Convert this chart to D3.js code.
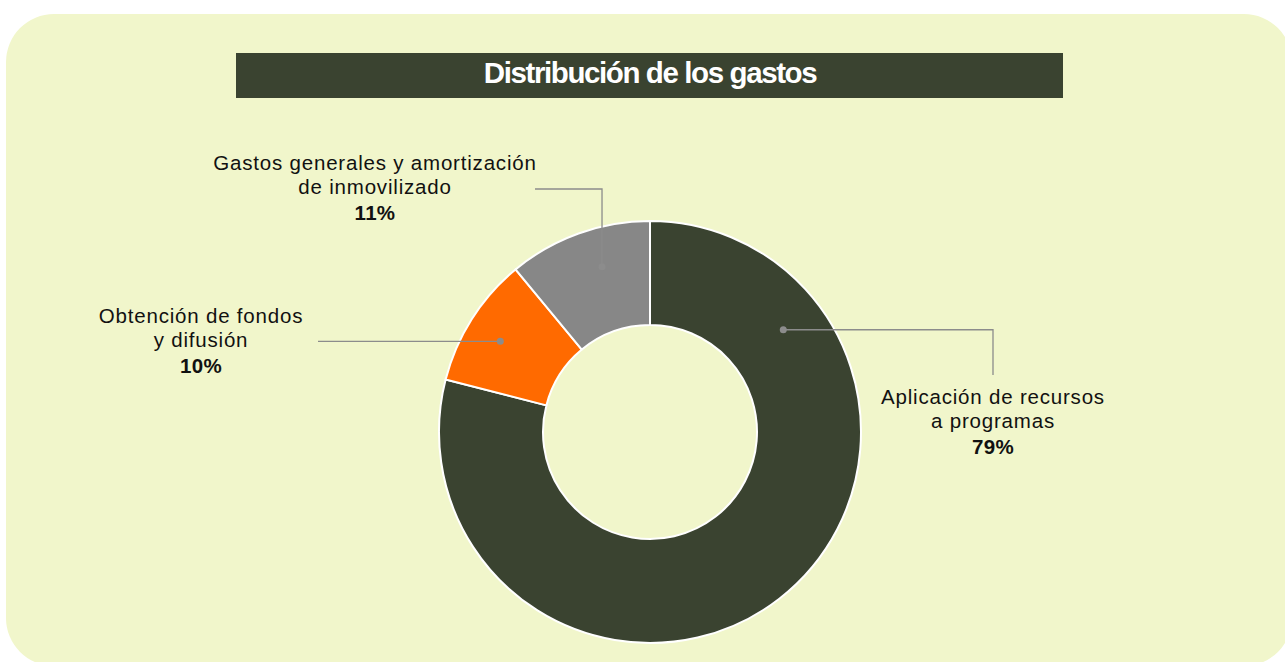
<!DOCTYPE html>
<html>

<head>
  <meta charset="UTF-8" />
  <title>Distribución de los gastos</title>
  <style>
    html, body {
      margin: 0;
      padding: 0;
      background: #ffffff;
      overflow: hidden;
    }

    :root {
      font-family: "Liberation Sans", Arial, Helvetica, sans-serif;
    }
  </style>
  <script src="https://d3js.org/d3.v7.min.js"></script>
</head>

<body>
  <script>
    /* Chart data */
    let categories = ["Aplicación de recursos a programas", "Obtención de fondos y difusión", "Gastos generales y amortización de inmovilizado"],
      values = [79, 10, 11],
      labelLines = [
        ["Aplicación de recursos", "a programas"],
        ["Obtención de fondos", "y difusión"],
        ["Gastos generales y amortización", "de inmovilizado"]
      ],
      percentLabels = ["79%", "10%", "11%"],
      colors = ["#3a4330", "#ff6a00", "#878787"];

    let width = 1285,
      height = 662,
      cx = 650,
      cy = 432,
      outerR = 211,
      innerR = 107;

    /* Label layout: anchor angle on the ring (deg), label centre, first baseline, leader bend */
    let labelLayout = [
      { angle: 52.5, r: 168, lx: 993, ly: 404, path: "right-down", endX: 993, endY: 375 },
      { angle: -58.8, r: 175, lx: 201, ly: 323, path: "straight", endX: 318 },
      { angle: -16.2, r: 172, lx: 375, ly: 170, path: "up-left", endX: 535, endY: 189 }
    ];

    let svg = d3.select("body")
      .append("svg")
      .attr("width", width)
      .attr("height", height);

    /* Panel background */
    svg.append("rect")
      .attr("x", 6)
      .attr("y", 14)
      .attr("width", 1286)
      .attr("height", 652)
      .attr("rx", 48)
      .attr("fill", "#f1f6cb");

    /* Title bar */
    svg.append("rect")
      .attr("x", 236)
      .attr("y", 53)
      .attr("width", 827)
      .attr("height", 45)
      .attr("fill", "#3a4330");

    svg.append("text")
      .attr("x", 650)
      .attr("y", 83)
      .attr("text-anchor", "middle")
      .attr("fill", "#ffffff")
      .style("font-size", "29.5px")
      .style("font-weight", "bold")
      .style("letter-spacing", "-1.4px")
      .text("Distribución de los gastos");

    /* Donut */
    let pie = d3.pie().sort(null).value(d => d)
      .startAngle(0).endAngle(2 * Math.PI);
    let arcs = pie(values);
    let arc = d3.arc().innerRadius(innerR).outerRadius(outerR);

    let g = svg.append("g")
      .attr("transform", `translate(${cx}, ${cy})`);

    g.selectAll(".slice")
      .data(arcs)
      .enter()
      .append("path")
      .attr("class", "slice")
      .attr("d", arc)
      .attr("fill", (d, i) => colors[i])
      .attr("stroke", "#ffffff")
      .attr("stroke-width", 2);

    /* Leader lines and labels */
    let lab = svg.append("g").attr("class", "labels");

    labelLayout.forEach((L, i) => {
      let a = L.angle * Math.PI / 180;
      let px = cx + L.r * Math.sin(a),
        py = cy - L.r * Math.cos(a);
      let pts;
      if (L.path === "right-down") pts = [[px, py], [L.endX, py], [L.endX, L.endY]];
      else if (L.path === "up-left") pts = [[px, py], [px, L.endY], [L.endX, L.endY]];
      else pts = [[px, py], [L.endX, py]];

      lab.append("path")
        .attr("d", d3.line()(pts))
        .attr("fill", "none")
        .attr("stroke", "#8c8c8c")
        .attr("stroke-width", 1.3);

      lab.append("circle")
        .attr("cx", px)
        .attr("cy", py)
        .attr("r", 3.5)
        .attr("fill", "#8c8c8c");

      let t = lab.append("text")
        .attr("text-anchor", "middle")
        .attr("fill", "#111111")
        .style("font-size", "20.5px")
        .style("letter-spacing", "0.8px");

      labelLines[i].forEach((line, j) => {
        t.append("tspan")
          .attr("x", L.lx)
          .attr("y", L.ly + j * 24)
          .text(line);
      });
      t.append("tspan")
        .attr("x", L.lx)
        .attr("y", L.ly + labelLines[i].length * 24 + 2)
        .style("font-weight", "bold")
        .style("letter-spacing", "0.3px")
        .text(percentLabels[i]);
    });
  </script>
</body>

</html>
